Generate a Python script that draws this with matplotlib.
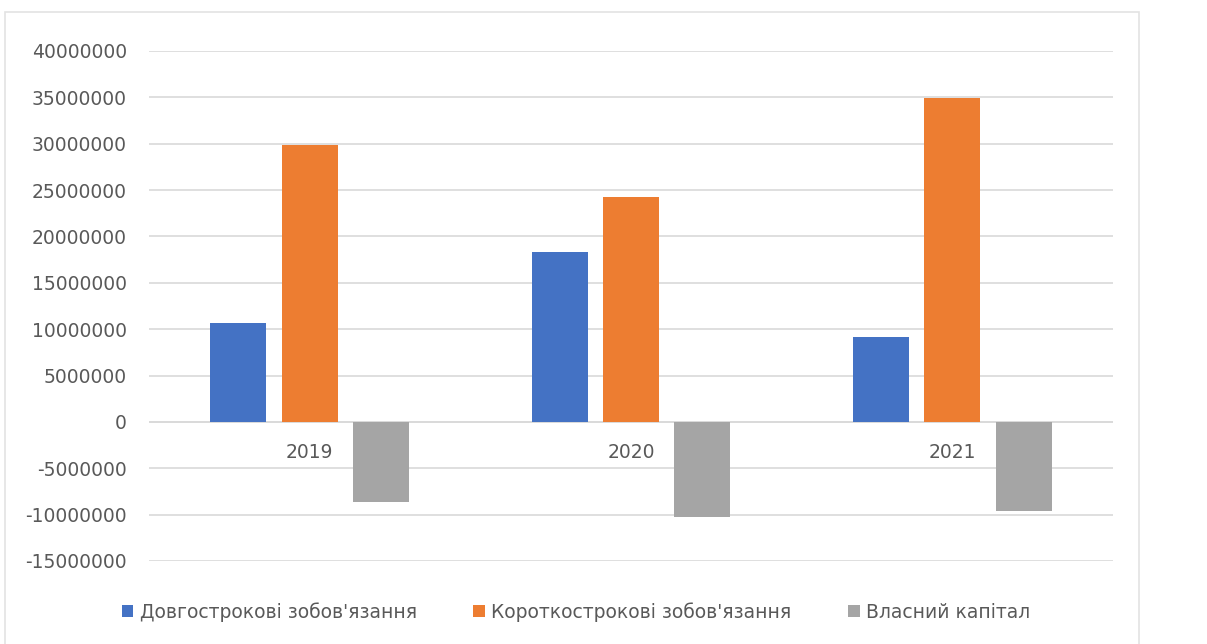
import matplotlib
matplotlib.use("Agg")
import matplotlib.pyplot as plt
from matplotlib.patches import Rectangle
import numpy as np

years = ["2019", "2020", "2021"]
series_names = ["Довгострокові зобов'язання", "Короткострокові зобов'язання", "Власний капітал"]
long_term = [10700000, 18300000, 9150000]
short_term = [29850000, 24300000, 34900000]
equity = [-8650000, -10300000, -9600000]
colors = ["#4472C4", "#ED7D31", "#A5A5A5"]
yticks = [-15000000, -10000000, -5000000, 0, 5000000, 10000000, 15000000,
          20000000, 25000000, 30000000, 35000000, 40000000]

plt.rcParams['font.family'] = ['DejaVu Sans']

W, H = 1207, 644
fig = plt.figure(figsize=(W / 100, H / 100), dpi=100)
fig.patch.set_facecolor("white")

# chart area frame
fig.patches.append(Rectangle((5 / W, -0.1), (1139 - 5) / W, 1.1 - 12 / H,
                             transform=fig.transFigure, fill=False,
                             edgecolor="#E3E3E3", linewidth=1.2))

ax = fig.add_axes([149 / W, 1 - 561 / H, (1113 - 149) / W, (561 - 51) / H])
x = np.arange(len(years))
width = 0.175
offset = 0.222
for i, (vals, name) in enumerate(zip([long_term, short_term, equity], series_names)):
    ax.bar(x + (i - 1) * offset, vals, width, color=colors[i], label=name, zorder=3)

ax.set_xlim(-0.5, 2.5)
ax.set_ylim(-15000000, 40000000)
ax.set_yticks(yticks)
ax.set_yticklabels([str(v) for v in yticks], fontsize=13.5, color="#595959")
ax.grid(axis="y", color="#D9D9D9", linewidth=1.2, zorder=0)
ax.axhline(0, color="#D9D9D9", linewidth=1.2, zorder=1)
for s in ax.spines.values():
    s.set_visible(False)
ax.tick_params(axis="y", length=0, pad=16)
ax.tick_params(axis="x", length=0)
ax.set_xticks([])
for xi, yr in zip(x, years):
    ax.text(xi, -2300000, yr, ha="center", va="top", fontsize=13.5, color="#595959")

leg = fig.legend(loc="center", bbox_to_anchor=(576 / W, 1 - 612 / H), ncol=3,
                 frameon=False, fontsize=13.5, handlelength=0.62, handleheight=0.62,
                 handletextpad=0.35, columnspacing=3.0)
for t in leg.get_texts():
    t.set_color("#595959")

fig.savefig("out.png", dpi=100, facecolor="white")
